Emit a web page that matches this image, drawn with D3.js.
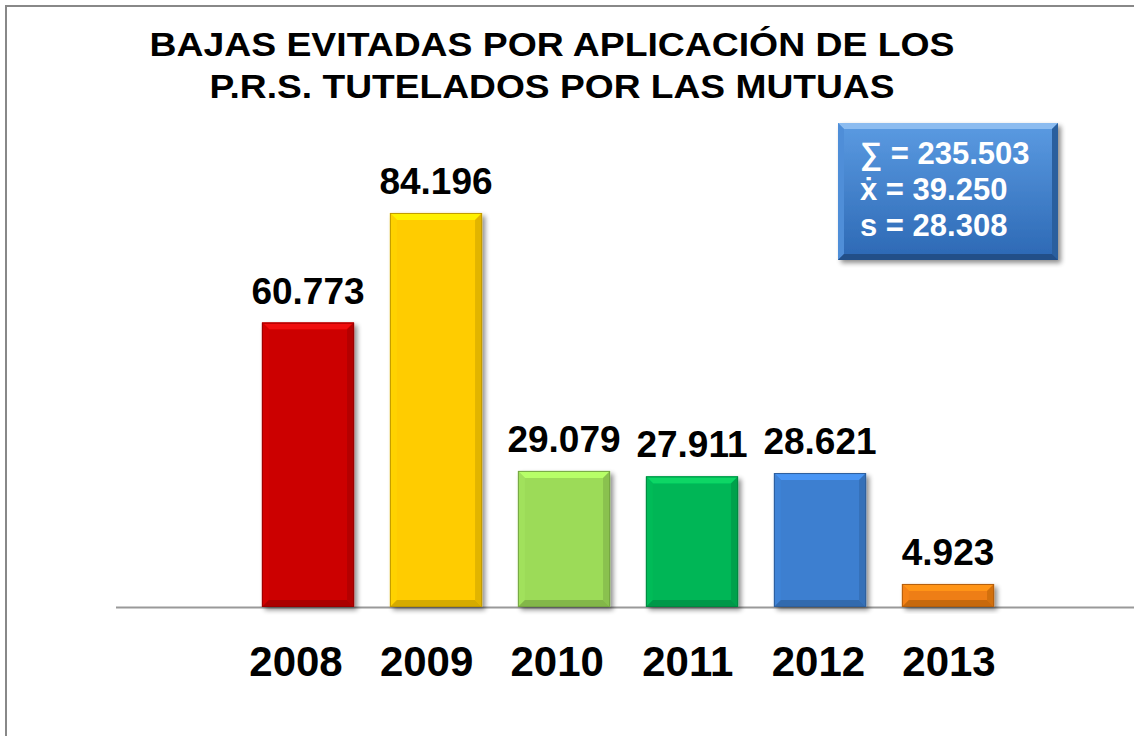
<!DOCTYPE html>
<html>
<head>
<meta charset="utf-8">
<script src="https://cdn.jsdelivr.net/npm/d3@7"></script>
<style>
  html, body { margin: 0; padding: 0; background: #fff; }
  svg { display: block; font-family: "Liberation Sans", Arial, sans-serif; }
</style>
</head>
<body>
<div id="chart"></div>
<script>
// data
const years = ["2008", "2009", "2010", "2011", "2012", "2013"];
const values = [60773, 84196, 29079, 27911, 28621, 4923];
const colors = ["#cc0606", "#ffcc00", "#9cdb59", "#06b656", "#3d7fd0", "#ee7e12"];
const titleLines = ["BAJAS EVITADAS POR APLICACIÓN DE LOS", "P.R.S. TUTELADOS POR LAS MUTUAS"];
const titleWidths = [805, 685];
const statSymbols = ["∑", "ẋ", "s"];
const statValues = [235503, 39250, 28308];

const es = d3.formatLocale({decimal: ",", thousands: ".", grouping: [3], currency: ["", " €"]});
const fmt = es.format(",d");

class BarChart {

  constructor(holder) {
    this.width = 1134;
    this.height = 736;
    this.svg = d3.select(holder).append("svg")
      .attr("width", this.width)
      .attr("height", this.height);

    this.x = d3.scaleBand()
      .domain(years)
      .range([244, 1012])
      .paddingInner(0.28)
      .paddingOuter(0.14);
    // category labels sit on a slightly wider spacing than the bars
    this.x_label = d3.scalePoint()
      .domain(years)
      .range([296, 949]);
    this.y = d3.scaleLinear()
      .domain([0, 100000])
      .range([607, 139]);

    this.defs = this.svg.append("defs");
    this.makeDefs();
    this.drawFrame();
    this.drawTitle();
    this.drawBars();
    this.drawStats();
  }

  makeDefs(){
    const sh = this.defs.append("filter").attr("id", "shadow")
      .attr("x", "-20%").attr("y", "-20%").attr("width", "150%").attr("height", "150%");
    sh.append("feGaussianBlur").attr("in", "SourceAlpha").attr("stdDeviation", 2.5);
    sh.append("feOffset").attr("dx", 3).attr("dy", 3).attr("result", "b");
    sh.append("feComponentTransfer").append("feFuncA").attr("type", "linear").attr("slope", 0.45);
    const m = sh.append("feMerge");
    m.append("feMergeNode");
    m.append("feMergeNode").attr("in", "SourceGraphic");

    const g = this.defs.append("linearGradient").attr("id", "boxgrad")
      .attr("x1", 0).attr("y1", 0).attr("x2", 0).attr("y2", 1);
    g.append("stop").attr("offset", "0%").attr("stop-color", "#5b9be2");
    g.append("stop").attr("offset", "100%").attr("stop-color", "#2c68b4");
  }

  drawFrame(){
    this.svg.append("rect")
      .attr("x", 6).attr("y", 6)
      .attr("width", this.width + 10).attr("height", this.height + 10)
      .attr("fill", "none")
      .attr("stroke", "#888")
      .attr("stroke-width", 2);

    this.svg.append("line")
      .attr("x1", 116).attr("x2", this.width)
      .attr("y1", this.y(0) + 0.5).attr("y2", this.y(0) + 0.5)
      .attr("stroke", "#999")
      .attr("stroke-width", 2);
  }

  drawTitle(){
    this.svg.append("g")
      .selectAll("text")
      .data(titleLines)
      .join("text")
      .attr("x", 552)
      .attr("y", (d, i) => 56 + i * 42)
      .attr("text-anchor", "middle")
      .attr("font-size", 33)
      .attr("font-weight", "bold")
      .attr("fill", "#000")
      .attr("textLength", (d, i) => titleWidths[i])
      .attr("lengthAdjust", "spacingAndGlyphs")
      .text(d => d);
  }

  bevel(x0, y0, x1, y1, b){
    return {
      top: [[x0, y0], [x1, y0], [x1 - b, y0 + b], [x0 + b, y0 + b]],
      left: [[x0, y0], [x0 + b, y0 + b], [x0 + b, y1 - b], [x0, y1]],
      right: [[x1, y0], [x1, y1], [x1 - b, y1 - b], [x1 - b, y0 + b]],
      bottom: [[x0, y1], [x1, y1], [x1 - b, y1 - b], [x0 + b, y1 - b]]
    };
  }

  drawBevelRect(sel, x0, y0, x1, y1, color, b){
    const c = d3.color(color);
    sel.append("rect")
      .attr("x", x0).attr("y", y0)
      .attr("width", x1 - x0).attr("height", y1 - y0)
      .attr("fill", color);
    const p = this.bevel(x0, y0, x1, y1, b);
    const line = d3.line();
    sel.append("path").attr("d", line(p.top) + "Z").attr("fill", c.brighter(0.45));
    sel.append("path").attr("d", line(p.left) + "Z").attr("fill", c.brighter(0.08));
    sel.append("path").attr("d", line(p.right) + "Z").attr("fill", c.darker(0.35));
    sel.append("path").attr("d", line(p.bottom) + "Z").attr("fill", c.darker(0.5));
    sel.append("rect")
      .attr("x", x0 + 0.5).attr("y", y0 + 0.5)
      .attr("width", x1 - x0 - 1).attr("height", y1 - y0 - 1)
      .attr("fill", "none")
      .attr("stroke", c.darker(0.8))
      .attr("stroke-width", 1);
  }

  drawBars(){
    const bars = this.svg.append("g")
      .selectAll("g")
      .data(years)
      .join("g")
      .attr("filter", "url(#shadow)");

    bars.each((d, i, nodes) => {
      const x0 = this.x(d);
      const x1 = x0 + this.x.bandwidth();
      const y0 = this.y(values[i]);
      const y1 = this.y(0);
      const b = Math.min(7, (y1 - y0) / 3);
      this.drawBevelRect(d3.select(nodes[i]), x0, y0, x1, y1, colors[i], b);
    });

    this.svg.append("g")
      .selectAll("text")
      .data(years)
      .join("text")
      .attr("x", d => this.x(d) + this.x.bandwidth() / 2)
      .attr("y", (d, i) => this.y(values[i]) - 19)
      .attr("text-anchor", "middle")
      .attr("font-size", 37)
      .attr("font-weight", "bold")
      .text((d, i) => fmt(values[i]));

    this.svg.append("g")
      .selectAll("text")
      .data(years)
      .join("text")
      .attr("x", d => this.x_label(d))
      .attr("y", 676)
      .attr("text-anchor", "middle")
      .attr("font-size", 42)
      .attr("font-weight", "bold")
      .text(d => d);
  }

  drawStats(){
    const box = this.svg.append("g").attr("filter", "url(#shadow)");
    const x0 = 838, y0 = 123, x1 = 1058, y1 = 260, b = 6;
    box.append("rect")
      .attr("x", x0).attr("y", y0)
      .attr("width", x1 - x0).attr("height", y1 - y0)
      .attr("fill", "url(#boxgrad)");
    const p = this.bevel(x0, y0, x1, y1, b);
    const line = d3.line();
    box.append("path").attr("d", line(p.top) + "Z").attr("fill", "#8cbcf0");
    box.append("path").attr("d", line(p.left) + "Z").attr("fill", "#4f8ed8");
    box.append("path").attr("d", line(p.right) + "Z").attr("fill", "#2a5e9e");
    box.append("path").attr("d", line(p.bottom) + "Z").attr("fill", "#234f88");

    this.svg.append("g")
      .selectAll("text")
      .data(statSymbols)
      .join("text")
      .attr("x", 860)
      .attr("y", (d, i) => 164 + i * 36)
      .attr("font-size", 31)
      .attr("font-weight", "bold")
      .attr("fill", "#fff")
      .text((d, i) => d + " = " + fmt(statValues[i]));
  }

}

new BarChart("#chart");
</script>
</body>
</html>
